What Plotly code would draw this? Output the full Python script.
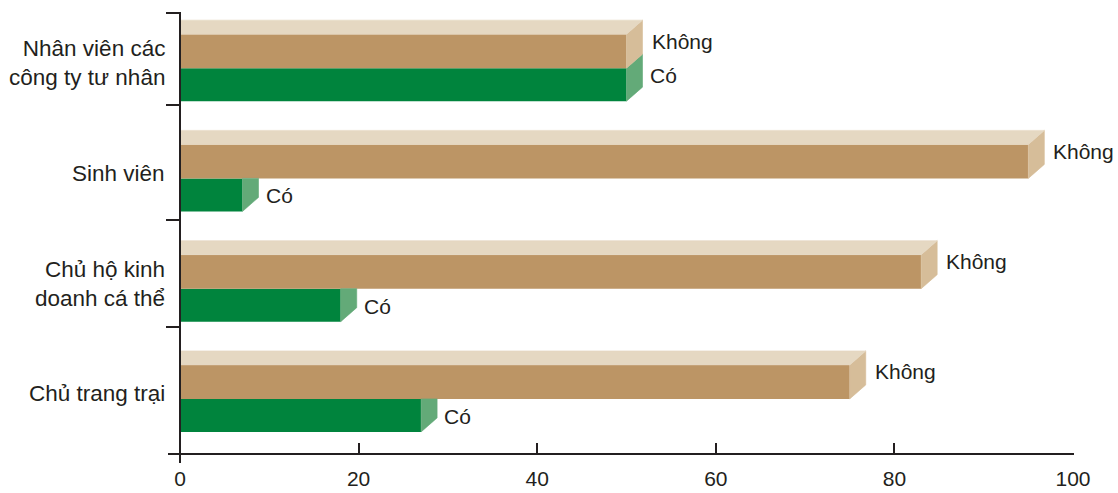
import plotly.graph_objects as go

# ---------------- data ----------------
categories = ["Nhân viên các<br>công ty tư nhân", "Sinh viên",
              "Chủ hộ kinh<br>doanh cá thể", "Chủ trang trại"]
khong = [50, 95, 83, 75]
co = [50, 7, 18, 27]
label_khong = "Không"
label_co = "Có"
x_ticks = [0, 20, 40, 60, 80, 100]

# ---------------- styles / layout constants ----------------
C_TOP = "#e5d8c2"
C_KHONG = "#bc9565"
C_KHONG_SIDE = "#d6bd99"
C_CO = "#00843d"
C_CO_SIDE = "#63aa78"
TXT = "#231f20"
FONT = "Liberation Sans, Arial, Helvetica, sans-serif"
FS = 21
FS_CAT = 22.5

W, H = 1118, 493
L, R, T, B = 180, 45, 13, 39
plot_w = W - L - R
plot_h = H - T - B
n = len(categories)
x_range = [0, 100]
y_range = [n - 0.5, -0.5]
px_x = plot_w / (x_range[1] - x_range[0])
px_y = plot_h / n

DX = 16 / px_x      # depth offset (x, data units)
DY = 14 / px_y      # depth offset (y, data units)
HK = 34 / px_y      # thickness of "Không" front face
HC = 33 / px_y      # thickness of "Có" front face
divider_px = [13, 105, 220, 327]
dividers = [(p - T) / px_y - 0.5 for p in divider_px]

fig = go.Figure()

# front faces as real bars
ys = list(range(n))
fig.add_trace(go.Bar(orientation="h", y=ys, x=co, width=HC, offset=0,
                     marker=dict(color=C_CO, line=dict(width=0)),
                     name=label_co, hovertemplate="%{x}<extra>Có</extra>"))
fig.add_trace(go.Bar(orientation="h", y=ys, x=khong, width=HK, offset=-HK,
                     marker=dict(color=C_KHONG, line=dict(width=0)),
                     name=label_khong, hovertemplate="%{x}<extra>Không</extra>"))


def poly(xs, yy, color):
    fig.add_trace(go.Scatter(x=xs + [xs[0]], y=yy + [yy[0]], mode="lines",
                             fill="toself", fillcolor=color,
                             line=dict(width=0.6, color=color),
                             hoverinfo="skip", showlegend=False))


annotations = []
for i in range(n):
    v, c = khong[i], co[i]
    yt = i - HK          # top of Không front
    yb = i + HC          # bottom of Có front
    # Có side face (visible part)
    if c + DX <= v:
        poly([c, c + DX, c + DX, c], [i, i, yb - DY, yb], C_CO_SIDE)
        co_label_y = i + HC / 2 + 0.01
    else:
        poly([c, c + DX, c + DX, c], [i, i - DY, yb - DY, yb], C_CO_SIDE)
        co_label_y = i + HC / 2 - DY / 2 - 0.015
    # Không side face
    poly([v, v + DX, v + DX, v], [yt, yt - DY, i - DY, i], C_KHONG_SIDE)
    # top face
    poly([0, v, v + DX, 0], [yt, yt, yt - DY, yt - DY], C_TOP)

    annotations.append(dict(x=v + DX, y=i - HK / 2 - DY / 2 - 0.027,
                            xref="x", yref="y", text=label_khong,
                            xanchor="left", yanchor="middle", xshift=7,
                            showarrow=False, font=dict(size=FS, color=TXT, family=FONT)))
    annotations.append(dict(x=c + DX, y=co_label_y,
                            xref="x", yref="y", text=label_co,
                            xanchor="left", yanchor="middle", xshift=5,
                            showarrow=False, font=dict(size=FS, color=TXT, family=FONT)))
    annotations.append(dict(x=0, y=i - 0.045, xref="paper", yref="y",
                            text=categories[i], xanchor="right", yanchor="middle",
                            align="right", xshift=-13, showarrow=False,
                            font=dict(size=FS_CAT, color=TXT, family=FONT)))

shapes = [
    dict(type="line", xref="paper", yref="paper", x0=0, x1=0,
         y0=-9 / plot_h, y1=1 + 1 / plot_h, line=dict(color=TXT, width=2), layer="above"),
    dict(type="line", xref="paper", yref="paper", x0=-12 / plot_w, x1=1 + 1 / plot_w,
         y0=0, y1=0, line=dict(color=TXT, width=2), layer="above"),
]

fig.update_layout(
    width=W, height=H,
    margin=dict(l=L, r=R, t=T, b=B, pad=0, autoexpand=False),
    paper_bgcolor="white", plot_bgcolor="white",
    barmode="overlay", showlegend=False,
    font=dict(family=FONT, size=FS, color=TXT),
    annotations=annotations, shapes=shapes,
    xaxis=dict(range=x_range, tickvals=x_ticks, ticks="inside", ticklen=11,
               tickwidth=2, tickcolor=TXT, showline=False, showgrid=False,
               zeroline=False, tickfont=dict(size=FS, color=TXT, family=FONT),
               ticklabelstandoff=10, automargin=False, fixedrange=True),
    yaxis=dict(range=y_range, tickvals=dividers, ticktext=[""] * len(dividers),
               ticks="outside", ticklen=13, tickwidth=2, tickcolor=TXT,
               showline=False, showgrid=False, zeroline=False,
               automargin=False, fixedrange=True),
)

fig.write_html("out.html")
